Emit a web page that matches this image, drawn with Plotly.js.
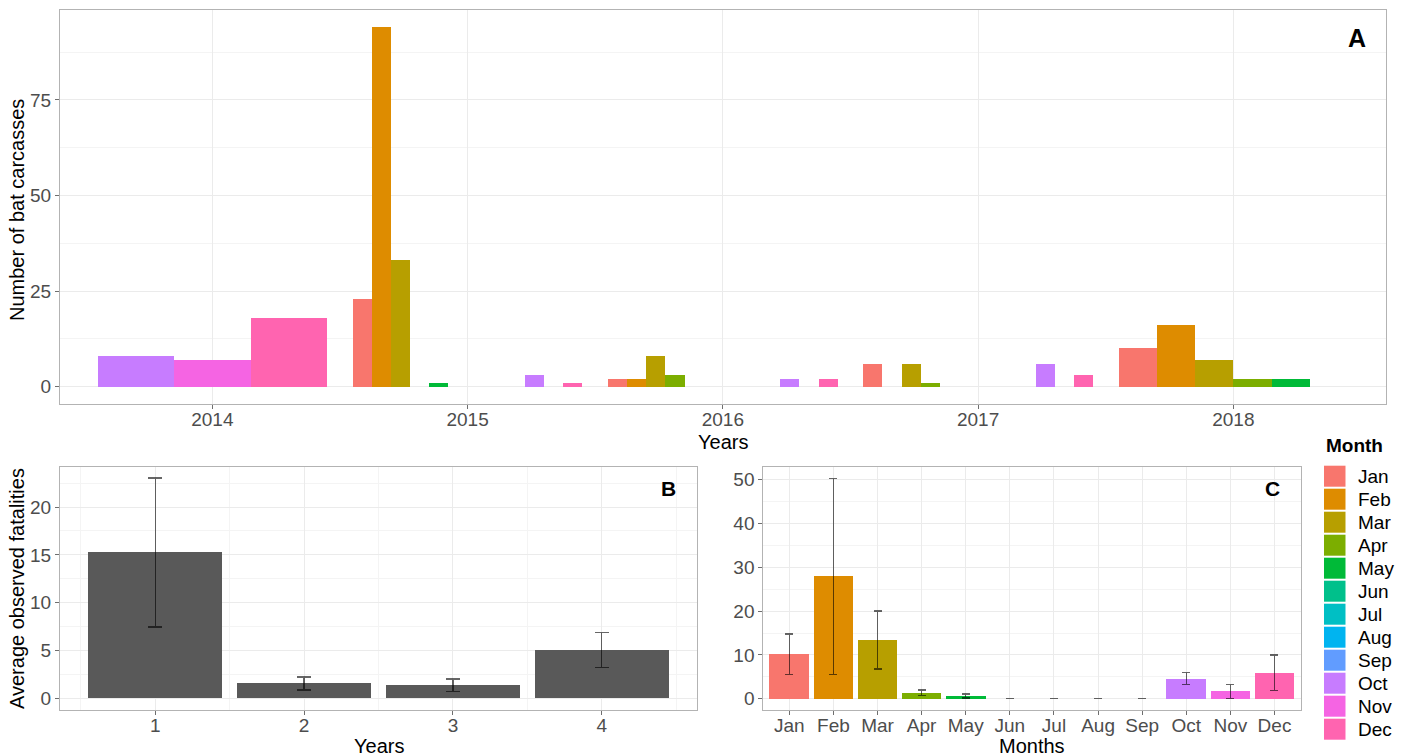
<!DOCTYPE html>
<html>
<head>
<meta charset="utf-8">
<script src="https://cdn.plot.ly/plotly-3.0.1.min.js"></script>
<style>
  html, body { margin: 0; padding: 0; background: #fff; }
  #chart { width: 1404px; height: 756px; }
</style>
</head>
<body>
<div id="chart"></div>
<script>
// ---------- DATA ----------
const monthNames = ['Jan','Feb','Mar','Apr','May','Jun','Jul','Aug','Sep','Oct','Nov','Dec'];

// Panel A: carcass counts per sampling period (period start / end in decimal years)
const aMonth = ['Oct','Nov','Dec','Jan','Feb','Mar','May','Oct','Dec','Jan','Feb','Mar','Apr','Oct','Dec','Jan','Mar','Apr','Oct','Dec','Jan','Feb','Mar','Apr','May'];
const aPeriodStart = [2013.55,2013.85,2014.15,2014.55,2014.625,2014.7,2014.85,2015.225,2015.375,2015.55,2015.625,2015.7,2015.775,2016.225,2016.375,2016.55,2016.7,2016.775,2017.225,2017.375,2017.55,2017.7,2017.85,2018.0,2018.15];
const aPeriodEnd   = [2013.85,2014.15,2014.45,2014.625,2014.7,2014.775,2014.925,2015.3,2015.45,2015.625,2015.7,2015.775,2015.85,2016.3,2016.45,2016.625,2016.775,2016.85,2017.3,2017.45,2017.7,2017.85,2018.0,2018.15,2018.3];
const aCount = [8,7,18,23,94,33,1,3,1,2,2,8,3,2,2,6,6,1,6,3,10,16,7,2,2];
const aYearTicks = [2014,2015,2016,2017,2018];

// Panel B: average observed fatalities per year
const bYears = [1,2,3,4];
const bMean = [15.25,1.55,1.38,5.05];
const bErr  = [7.8,0.68,0.64,1.8];

// Panel C: average observed fatalities per month
const cMean = [10.1,27.9,13.4,1.37,0.62,0,0,0,0,4.6,1.65,5.95];
const cErr  = [4.65,22.4,6.6,0.65,0.45,0,0,0,0,1.4,1.65,4.0];

// ---------- STYLE ----------
const monthColors = ['#F8766D','#DE8C00','#B79F00','#7CAE00','#00BA38','#00C08B','#00BFC4','#00B4F0','#619CFF','#C77CFF','#F564E3','#FF64B0'];
const W = 1404, H = 756;
const px = v => v / W;
const py = v => 1 - v / H;
const FONT = 'Liberation Sans, Arial, sans-serif';
const tickFont = {family: FONT, size: 19, color: '#4D4D4D'};
const gridMajor = '#EBEBEB', gridMinor = '#F4F4F4';

const traces = [];

// Panel A traces: one per month present
monthNames.forEach((m, mi) => {
  const idx = aMonth.map((v, i) => v === m ? i : -1).filter(i => i >= 0);
  if (!idx.length) return;
  traces.push({
    type: 'bar', xaxis: 'x', yaxis: 'y', name: m, showlegend: false,
    x: idx.map(i => (aPeriodStart[i] + aPeriodEnd[i]) / 2),
    width: idx.map(i => aPeriodEnd[i] - aPeriodStart[i]),
    y: idx.map(i => aCount[i]),
    marker: {color: monthColors[mi], line: {width: 0}},
    hoverinfo: 'x+y'
  });
});

// Panel B
traces.push({
  type: 'bar', xaxis: 'x2', yaxis: 'y2', showlegend: false,
  x: bYears, y: bMean, width: 0.9,
  marker: {color: '#595959', line: {width: 0}},
  error_y: {type: 'data', array: bErr, visible: true, color: 'rgba(0,0,0,0.6)', thickness: 1.3, width: 7}
});

// Panel C
traces.push({
  type: 'bar', xaxis: 'x3', yaxis: 'y3', showlegend: false,
  x: monthNames.map((m, i) => i + 1), y: cMean, width: 0.9,
  marker: {color: monthColors, line: {width: 0}},
  error_y: {type: 'data', array: cErr, visible: true, color: 'rgba(0,0,0,0.6)', thickness: 1.3, width: 4}
});

const axisBase = {
  showline: true, mirror: true, linecolor: '#B3B3B3', linewidth: 1,
  ticks: 'outside', ticklen: 4, tickcolor: '#6E6E6E', tickwidth: 1,
  showgrid: true, gridcolor: gridMajor, gridwidth: 1,
  zeroline: false, tickfont: tickFont, automargin: false, fixedrange: true
};
const xAxisBase = Object.assign({}, axisBase, {ticklabelstandoff: -6});

const layout = {
  width: W, height: H, autosize: false,
  margin: {l: 0, r: 0, t: 0, b: 0, pad: 0},
  paper_bgcolor: '#fff', plot_bgcolor: '#fff',
  barmode: 'overlay', bargap: 0,
  showlegend: false,
  xaxis: Object.assign({}, xAxisBase, {
    domain: [px(60), px(1386)], anchor: 'y',
    range: [2013.403, 2018.598], tickmode: 'array', tickvals: aYearTicks, ticktext: aYearTicks.map(String)
  }),
  yaxis: Object.assign({}, axisBase, {
    domain: [py(404), py(10)], anchor: 'x',
    range: [-4.53, 98.5], tickmode: 'array', tickvals: [0,25,50,75],
    minor: {tickmode: 'array', tickvals: [12.5,37.5,62.5,87.5], showgrid: true, gridcolor: gridMinor, gridwidth: 1, ticks: ''}
  }),
  xaxis2: Object.assign({}, xAxisBase, {
    domain: [px(60), px(697)], anchor: 'y2',
    range: [0.36, 4.64], tickmode: 'array', tickvals: bYears, ticktext: bYears.map(String),
    minor: {tickmode: 'array', tickvals: [0.5,1.5,2.5,3.5,4.5], showgrid: true, gridcolor: gridMinor, gridwidth: 1, ticks: ''}
  }),
  yaxis2: Object.assign({}, axisBase, {
    domain: [py(709.7), py(467.3)], anchor: 'x2',
    range: [-1.19, 24.16], tickmode: 'array', tickvals: [0,5,10,15,20],
    minor: {tickmode: 'array', tickvals: [2.5,7.5,12.5,17.5,22.5], showgrid: true, gridcolor: gridMinor, gridwidth: 1, ticks: ''}
  }),
  xaxis3: Object.assign({}, xAxisBase, {
    domain: [px(763.3), px(1300.5)], anchor: 'y3',
    range: [0.41, 12.59], tickmode: 'array', tickvals: monthNames.map((m, i) => i + 1), ticktext: monthNames
  }),
  yaxis3: Object.assign({}, axisBase, {
    domain: [py(709.7), py(467.3)], anchor: 'x3',
    range: [-2.51, 52.83], tickmode: 'array', tickvals: [0,10,20,30,40,50],
    minor: {tickmode: 'array', tickvals: [5,15,25,35,45], showgrid: true, gridcolor: gridMinor, gridwidth: 1, ticks: ''}
  }),
  shapes: [],
  annotations: []
};

const titleFont = {family: FONT, size: 20, color: '#000'};
const ann = (text, x, y, extra) => Object.assign({
  text, x: px(x), y: py(y), xref: 'paper', yref: 'paper',
  xanchor: 'center', yanchor: 'middle', showarrow: false, font: titleFont
}, extra || {});

layout.annotations.push(
  ann('Years', 723, 442),
  ann('Number of bat carcasses', 17, 210, {textangle: -90}),
  ann('Years', 378.5, 746),
  ann('Average observed fatalities', 17, 589, {textangle: -90}),
  ann('Months', 1032, 746),
  ann('<b>A</b>', 1356.7, 38, {font: {family: FONT, size: 25, color: '#000'}}),
  ann('<b>B</b>', 668, 488, {font: {family: FONT, size: 21, color: '#000'}}),
  ann('<b>C</b>', 1272.7, 488, {font: {family: FONT, size: 21, color: '#000'}}),
  ann('<b>Month</b>', 1324, 445, {xanchor: 'left', font: {family: FONT, size: 19, color: '#000'}})
);

// Legend (Month colour keys)
monthNames.forEach((m, i) => {
  const top = 465.7 + i * 23.0;
  layout.shapes.push({
    type: 'rect', xref: 'paper', yref: 'paper',
    x0: px(1324), x1: px(1345.5), y0: py(top + 21), y1: py(top),
    fillcolor: monthColors[i], line: {width: 0}
  });
  layout.annotations.push(ann(m, 1356, top + 10.5, {xanchor: 'left', font: {family: FONT, size: 19, color: '#000'}}));
});

Plotly.newPlot('chart', traces, layout, {displayModeBar: false, staticPlot: true});
</script>
</body>
</html>
